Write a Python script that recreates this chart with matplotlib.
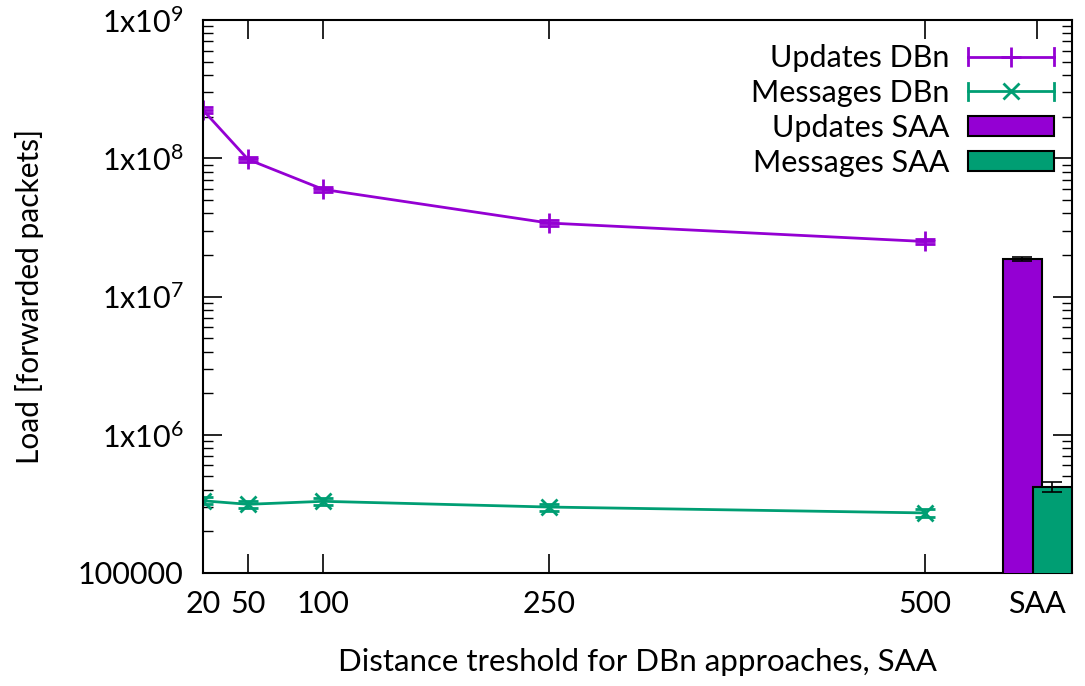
import matplotlib
matplotlib.use('Agg')
import matplotlib.pyplot as plt
from matplotlib.legend_handler import HandlerBase
from matplotlib.lines import Line2D
from matplotlib.patches import Rectangle
from matplotlib.ticker import FixedLocator, FixedFormatter, LogLocator, NullFormatter

# ---- data ----
thresholds = [20, 50, 100, 250, 500]
tick_positions = [20, 50, 100, 250, 500, 575]
tick_labels = ['20', '50', '100', '250', '500', 'SAA']
updates_dbn = [2.23e8, 9.8e7, 5.95e7, 3.4e7, 2.5e7]
updates_dbn_err = [0.10e8, 0.45e7, 0.28e7, 0.15e7, 0.12e7]
messages_dbn = [3.33e5, 3.14e5, 3.30e5, 3.00e5, 2.72e5]
messages_dbn_err = [0.20e5, 0.18e5, 0.20e5, 0.17e5, 0.16e5]
saa_positions = [565, 585]
saa_values = [1.87e7, 4.2e5]
saa_err = [0.07e7, 0.35e5]
saa_labels = ['Updates SAA', 'Messages SAA']
yticks = [1e5, 1e6, 1e7, 1e8, 1e9]
ytick_labels = ['100000', r'1x10$^{6}$', r'1x10$^{7}$', r'1x10$^{8}$', r'1x10$^{9}$']

purple = '#9400D3'
green = '#009E73'

plt.rcParams['font.family'] = ['Lato', 'DejaVu Sans']
plt.rcParams['mathtext.default'] = 'regular'
plt.rcParams['font.size'] = 21

fig = plt.figure(figsize=(10.85, 6.86), dpi=100)
ax = fig.add_axes([203/1085, 1-573/686, (1072-203)/1085, (573-20)/686])

ax.errorbar(thresholds, updates_dbn, yerr=updates_dbn_err, color=purple, lw=2,
            marker='+', ms=15, mew=2, capsize=7, elinewidth=1.5, capthick=1.5)
ax.errorbar(thresholds, messages_dbn, yerr=messages_dbn_err, color=green, lw=2,
            marker='x', ms=12, mew=2, capsize=7, elinewidth=1.5, capthick=1.5)
ax.bar(saa_positions, saa_values, width=26, bottom=0, color=[purple, green],
       edgecolor='black', linewidth=1.5, zorder=3)
ax.errorbar(saa_positions, saa_values, yerr=saa_err, fmt='none', ecolor='black',
            capsize=7, elinewidth=1.2, capthick=1.2, zorder=4)

ax.set_yscale('log')
ax.set_ylim(1e5, 1e9)
ax.set_xlim(20, 598)

ax.xaxis.set_major_locator(FixedLocator(tick_positions))
ax.xaxis.set_major_formatter(FixedFormatter(tick_labels))
ax.yaxis.set_major_locator(FixedLocator(yticks))
ax.yaxis.set_major_formatter(FixedFormatter(ytick_labels))
ax.yaxis.set_minor_locator(LogLocator(base=10, subs=range(2, 10)))
ax.yaxis.set_minor_formatter(NullFormatter())

ax.tick_params(which='major', direction='in', length=14, width=1.2, top=True, right=True,
               labelsize=22, pad=14)
ax.tick_params(which='minor', direction='in', length=7, width=1.0, top=False, right=True)
ax.tick_params(axis='x', which='major', pad=12)
for s in ax.spines.values():
    s.set_linewidth(1.5)

ax.set_ylabel('Load [forwarded packets]', fontsize=21.5, labelpad=24)
ax.set_xlabel('Distance treshold for DBn approaches, SAA', fontsize=22.5, labelpad=22)


class HandlerGnuLine(HandlerBase):
    def __init__(self, color, marker, ms):
        super().__init__()
        self.color, self.marker, self.ms = color, marker, ms

    def create_artists(self, legend, orig_handle, xdescent, ydescent, width, height, fontsize, trans):
        y = height / 2 - ydescent
        x0, x1 = -xdescent, -xdescent + width
        ln = Line2D([x0, x1], [y, y], color=self.color, lw=2, transform=trans)
        c1 = Line2D([x0, x0], [y - 6, y + 6], color=self.color, lw=2, transform=trans)
        c2 = Line2D([x1, x1], [y - 6, y + 6], color=self.color, lw=2, transform=trans)
        mk = Line2D([(x0 + x1) / 2], [y], color=self.color, marker=self.marker, ms=self.ms,
                    mew=2, lw=0, transform=trans)
        return [ln, c1, c2, mk]


class HandlerBox(HandlerBase):
    def __init__(self, color):
        super().__init__()
        self.color = color

    def create_artists(self, legend, orig_handle, xdescent, ydescent, width, height, fontsize, trans):
        r = Rectangle((-xdescent, -ydescent + height * 0.05), width, height * 0.9,
                      facecolor=self.color, edgecolor='black', lw=1.5, transform=trans)
        return [r]


h1, h2, h3, h4 = object(), object(), object(), object()
ax.legend([h1, h2, h3, h4], ['Updates DBn', 'Messages DBn'] + saa_labels,
          handler_map={h1: HandlerGnuLine(purple, '+', 14), h2: HandlerGnuLine(green, 'x', 12),
                       h3: HandlerBox(purple), h4: HandlerBox(green)},
          loc='upper right', bbox_to_anchor=(0.993, 0.978), markerfirst=False, frameon=False,
          fontsize=22, handlelength=2.8, handleheight=0.75, handletextpad=0.6,
          labelspacing=0.22, borderaxespad=0)

fig.savefig('out.png', dpi=100)
